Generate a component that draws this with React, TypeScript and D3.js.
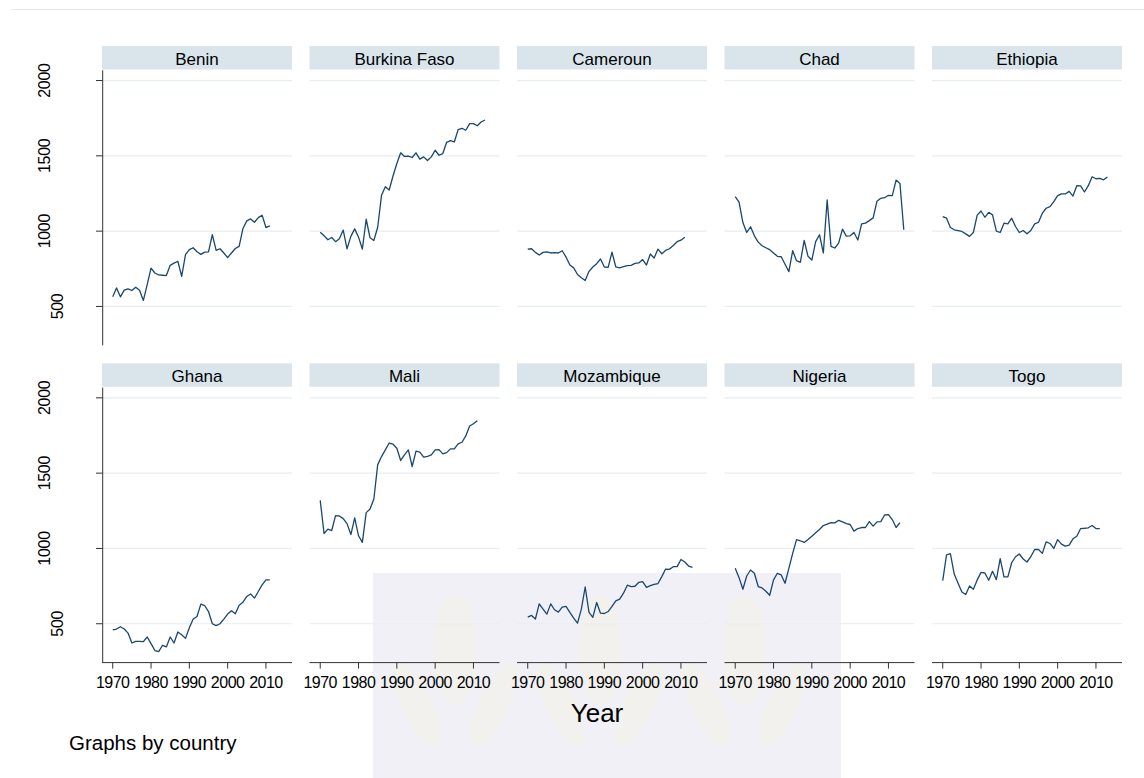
import React, { useEffect } from 'react';
import * as d3 from 'd3';

// GDP-like series per country, one value per year starting 1970
const START_YEAR = 1970;

const countries = ['Benin', 'Burkina Faso', 'Cameroun', 'Chad', 'Ethiopia', 'Ghana', 'Mali', 'Mozambique', 'Nigeria', 'Togo'];

const benin = [564, 623, 564, 608, 617, 606, 628, 608, 540, 645, 755, 722, 709, 707, 705, 773, 788, 800, 700, 844, 877, 890, 863, 846, 861, 863, 976, 872, 883, 855, 824, 855, 885, 899, 1018, 1068, 1081, 1059, 1090, 1106, 1024, 1035];
const burkinaFaso = [993, 969, 943, 958, 930, 949, 1007, 883, 965, 1015, 960, 881, 1079, 956, 938, 1026, 1238, 1295, 1273, 1366, 1449, 1520, 1496, 1498, 1489, 1520, 1478, 1493, 1469, 1493, 1537, 1504, 1515, 1590, 1601, 1592, 1674, 1683, 1670, 1714, 1714, 1700, 1725, 1738];
const cameroun = [881, 883, 859, 841, 859, 863, 855, 857, 855, 870, 828, 775, 756, 712, 690, 672, 733, 762, 784, 815, 762, 760, 861, 762, 756, 764, 771, 773, 786, 789, 811, 775, 848, 822, 881, 850, 872, 883, 905, 930, 940, 960];
const chad = [1229, 1192, 1057, 991, 1029, 969, 927, 903, 890, 877, 855, 833, 830, 780, 731, 870, 804, 793, 938, 833, 808, 930, 976, 855, 1207, 899, 888, 921, 1013, 967, 969, 991, 941, 1048, 1053, 1070, 1088, 1198, 1218, 1222, 1238, 1236, 1339, 1317, 1009];
const ethiopia = [1097, 1086, 1024, 1009, 1004, 998, 982, 965, 991, 1106, 1134, 1092, 1125, 1108, 1000, 991, 1053, 1048, 1086, 1031, 991, 1004, 982, 1004, 1048, 1059, 1119, 1152, 1163, 1196, 1236, 1247, 1247, 1264, 1233, 1302, 1300, 1260, 1302, 1361, 1348, 1350, 1341, 1359];
const ghana = [460, 465, 480, 465, 438, 372, 383, 383, 381, 412, 368, 322, 315, 357, 346, 412, 372, 445, 427, 403, 474, 531, 548, 630, 621, 581, 500, 487, 500, 531, 564, 586, 566, 623, 643, 681, 698, 670, 714, 758, 791, 791];
const mali = [1319, 1099, 1128, 1119, 1218, 1216, 1198, 1165, 1092, 1203, 1084, 1040, 1238, 1262, 1328, 1555, 1610, 1654, 1700, 1692, 1665, 1584, 1621, 1654, 1544, 1646, 1639, 1606, 1612, 1621, 1654, 1656, 1628, 1636, 1661, 1661, 1694, 1705, 1747, 1813, 1828, 1848];
const mozambique = [544, 555, 531, 632, 597, 564, 632, 593, 577, 610, 615, 575, 537, 504, 597, 744, 575, 542, 641, 570, 568, 581, 615, 652, 663, 703, 756, 747, 749, 775, 780, 742, 753, 762, 767, 813, 863, 861, 879, 879, 927, 910, 883, 874];
const nigeria = [868, 806, 729, 817, 857, 835, 747, 738, 716, 689, 791, 835, 824, 769, 868, 967, 1059, 1051, 1040, 1059, 1081, 1104, 1126, 1152, 1161, 1172, 1170, 1187, 1176, 1165, 1159, 1115, 1132, 1139, 1139, 1178, 1148, 1176, 1178, 1222, 1225, 1192, 1139, 1172];
const togo = [786, 958, 965, 830, 769, 711, 694, 751, 729, 791, 841, 837, 789, 848, 793, 932, 811, 811, 905, 945, 963, 930, 910, 945, 993, 993, 967, 1044, 1033, 1000, 1059, 1029, 1015, 1022, 1064, 1081, 1132, 1134, 1137, 1152, 1132, 1132];

const seriesList = [benin, burkinaFaso, cameroun, chad, ethiopia, ghana, mali, mozambique, nigeria, togo];

const yTicks = [500, 1000, 1500, 2000];
const xTicks = [1970, 1980, 1990, 2000, 2010];

const W = 1144;
const H = 778;
const COLS = 5;
const panelLeft = 102;
const panelStep = 207.5;
const panelW = 190;
const rowTops = [46, 363.3];
const stripH = 23.5;
const plotOff = 24.3;
const plotH = 275;

const FONT = '"Liberation Sans", Arial, Helvetica, sans-serif';
const LINE_COLOR = '#1a476f';
const GRID_COLOR = '#e6eef1';
const STRIP_COLOR = '#d9e5eb';

const App: React.FC = () => {
	useEffect(() => {
		document.body.style.margin = '0';
	}, []);

	const x = d3.scaleLinear().domain([1967.2, 2016.8]).range([0, panelW]);
	const y = d3.scaleLinear().domain([242, 2068]).range([plotH, 0]);
	const line = d3
		.line<number>()
		.x((_, i) => x(START_YEAR + i))
		.y((d) => y(d));

	return (
		<svg width={W} height={H} style={{ display: 'block', background: '#fff' }} fontFamily={FONT}>
			{/* faint banner line at top */}
			<line x1={11} x2={W} y1={9.5} y2={9.5} stroke="#e3e8eb" strokeWidth={1} />

			{/* watermark behind the panels */}
			<g>
				<rect x={373} y={573} width={468} height={205} fill="#f0f0f6" />
				{[455, 600, 745].map((cx) => (
					<g key={cx} fill="#f4f2ea" opacity={0.7}>
						<ellipse cx={cx} cy={650} rx={22} ry={55} />
						<ellipse cx={cx - 38} cy={705} rx={15} ry={45} transform={`rotate(-25 ${cx - 38} 705)`} />
						<ellipse cx={cx + 38} cy={705} rx={15} ry={45} transform={`rotate(25 ${cx + 38} 705)`} />
					</g>
				))}
			</g>

			{countries.map((name, k) => {
				const row = Math.floor(k / COLS);
				const col = k % COLS;
				const px = panelLeft + col * panelStep;
				const stripTop = rowTops[row];
				const py = stripTop + plotOff;
				const isBottom = row === 1;
				const isLeft = col === 0;
				return (
					<g key={name}>
						<rect x={px} y={stripTop} width={panelW} height={stripH} fill={STRIP_COLOR} />
						<text x={px + panelW / 2} y={stripTop + 18.5} textAnchor="middle" fontSize={17} fill="#000">
							{name}
						</text>
						<g transform={`translate(${px},${py})`}>
							{yTicks.map((t) => (
								<line key={t} x1={0} x2={panelW} y1={y(t)} y2={y(t)} stroke={GRID_COLOR} strokeWidth={1.2} />
							))}
							<path d={line(seriesList[k]) ?? ''} fill="none" stroke={LINE_COLOR} strokeWidth={1.3} strokeLinejoin="round" />
							{isLeft && (
								<g>
									<line x1={0.7} x2={0.7} y1={0} y2={plotH} stroke="#333" strokeWidth={1} />
									{yTicks.map((t) => {
										const lx = -52 + (4 - String(t).length) * 13;
										return (
											<g key={t}>
												<line x1={-6} x2={0.7} y1={y(t)} y2={y(t)} stroke="#333" strokeWidth={1} />
												<text transform={`translate(${lx},${y(t)}) rotate(-90)`} textAnchor="middle" fontSize={16} letterSpacing={-0.3} fill="#000">
													{t}
												</text>
											</g>
										);
									})}
								</g>
							)}
							{isBottom && (
								<g>
									<line x1={0} x2={panelW} y1={plotH} y2={plotH} stroke="#333" strokeWidth={1} />
									{xTicks.map((t) => (
										<g key={t} transform={`translate(${x(t)},${plotH})`}>
											<line y1={0} y2={6} stroke="#333" strokeWidth={1} />
											<text y={25.5} textAnchor="middle" fontSize={16} letterSpacing={-0.5} fill="#000">
												{t}
											</text>
										</g>
									))}
								</g>
							)}
						</g>
					</g>
				);
			})}

			<text x={597} y={722} textAnchor="middle" fontSize={26} fill="#000">
				Year
			</text>
			<text x={69} y={750} fontSize={20.5} fill="#000">
				Graphs by country
			</text>
		</svg>
	);
};

export default App;
